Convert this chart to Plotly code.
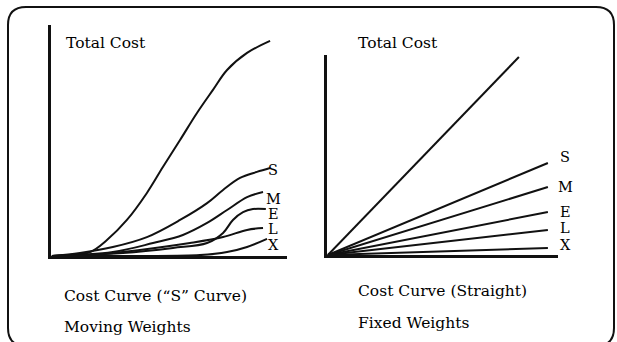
import plotly.graph_objects as go

W, H = 617, 342

# ---- Left panel: "S" curves (moving weights) ----
total_x = [0, 6.4, 16.2, 23.4, 31.9, 40.4, 47.2, 54.5, 61.7, 68.5, 74.5, 83.0, 92.8]
total_y = [0, 0.4, 1.7, 6.9, 15.6, 27.3, 38.5, 50.2, 61.9, 71.9, 80.5, 87.9, 93.1]
s_x = [0, 11.9, 25.9, 40.4, 54.5, 66.0, 72.8, 80.0, 87.2, 92.8]
s_y = [0, 1.3, 3.9, 8.2, 15.6, 22.9, 28.6, 33.8, 36.4, 38.1]
m_x = [0, 25.9, 43.0, 55.7, 66.0, 74.5, 83.0, 89.8]
m_y = [0, 1.7, 5.6, 9.1, 14.3, 19.9, 25.5, 27.7]
e_x = [0, 30.2, 51.5, 66.0, 72.8, 77.0, 81.3, 85.5, 91.0]
e_y = [0, 1.3, 3.5, 5.6, 10.0, 15.6, 19.0, 20.3, 20.3]
l_x = [0, 16.2, 37.4, 58.7, 72.8, 83.0, 89.8]
l_y = [0, 0.4, 2.6, 5.6, 8.2, 11.3, 12.1]
x_x = [0, 37.4, 63.0, 74.5, 83.0, 91.5]
x_y = [0, 0.0, 0.4, 1.7, 3.9, 7.4]

# ---- Right panel: straight lines (fixed weights) ----
r_x_start = 0
r_total_end = (83.0, 99.0)
r_end_x = 95.6
r_s_end, r_m_end, r_e_end, r_l_end, r_x_end = 46.0, 34.0, 21.5, 12.5, 3.5

labels = ["S", "M", "E", "L", "X"]

def px(x):
    return x / W

def py(y):
    return 1 - y / H

fig = go.Figure()
line = dict(color="#111111", width=2)

for xs, ys in [(total_x, total_y), (s_x, s_y), (m_x, m_y), (e_x, e_y), (l_x, l_y), (x_x, x_y)]:
    fig.add_trace(go.Scatter(x=xs, y=ys, mode="lines", line=dict(line, shape="spline", smoothing=1.0),
                             xaxis="x", yaxis="y", showlegend=False, hoverinfo="skip"))

for ex, ey in [r_total_end, (r_end_x, r_s_end), (r_end_x, r_m_end), (r_end_x, r_e_end),
               (r_end_x, r_l_end), (r_end_x, r_x_end)]:
    fig.add_trace(go.Scatter(x=[r_x_start, ex], y=[0, ey], mode="lines", line=line,
                             xaxis="x2", yaxis="y2", showlegend=False, hoverinfo="skip"))

ax = dict(showgrid=False, zeroline=False, showticklabels=False, ticks="",
          showline=True, linecolor="#111111", linewidth=2.5, fixedrange=True)

fig.update_layout(
    width=W, height=H, margin=dict(l=0, r=0, t=0, b=0),
    paper_bgcolor="white", plot_bgcolor="rgba(0,0,0,0)",
    xaxis=dict(ax, domain=[px(51), px(287)], range=[-0.4, 100], anchor="y"),
    yaxis=dict(ax, domain=[py(256), py(25)], range=[0, 100], anchor="x"),
    xaxis2=dict(ax, domain=[px(327), px(558)], range=[-0.4, 100], anchor="y2"),
    yaxis2=dict(ax, domain=[py(255), py(55)], range=[0, 100], anchor="x2"),
)

font = dict(family="DejaVu Serif", size=15.5, color="#000000")

def ann(text, x, y, xanchor="left", size=None):
    f = dict(font)
    if size:
        f["size"] = size
    fig.add_annotation(text=text, x=px(x), y=py(y), xref="paper", yref="paper",
                       xanchor=xanchor, yanchor="middle", showarrow=False, font=f)

ann("Total Cost", 64, 43)
ann("Total Cost", 356, 43)
ann("Cost Curve (\u201cS\u201d Curve)", 62, 296)
ann("Moving Weights", 62, 327)
ann("Cost Curve (Straight)", 356, 291)
ann("Fixed Weights", 356, 323)

left_label_y = [170, 199, 214, 229, 245]
right_label_y = [157, 187, 212, 228, 245]
for lab, yy in zip(labels, left_label_y):
    ann(lab, 273, yy, xanchor="center", size=14.5)
for lab, yy in zip(labels, right_label_y):
    ann(lab, 565, yy, xanchor="center", size=14.5)

# rounded border frame
x0, x1, y0, y1, r = 8, 614, 7, 346, 18
path = (f"M {px(x0+r)},{py(y0)} L {px(x1-r)},{py(y0)} Q {px(x1)},{py(y0)} {px(x1)},{py(y0+r)} "
        f"L {px(x1)},{py(y1-r)} Q {px(x1)},{py(y1)} {px(x1-r)},{py(y1)} "
        f"L {px(x0+r)},{py(y1)} Q {px(x0)},{py(y1)} {px(x0)},{py(y1-r)} "
        f"L {px(x0)},{py(y0+r)} Q {px(x0)},{py(y0)} {px(x0+r)},{py(y0)} Z")
fig.add_shape(type="path", path=path, xref="paper", yref="paper",
              line=dict(color="#111111", width=2))

fig.write_html("out.html", config={"displayModeBar": False},
               post_script="document.body.style.margin='0';document.body.style.overflow='hidden';")
